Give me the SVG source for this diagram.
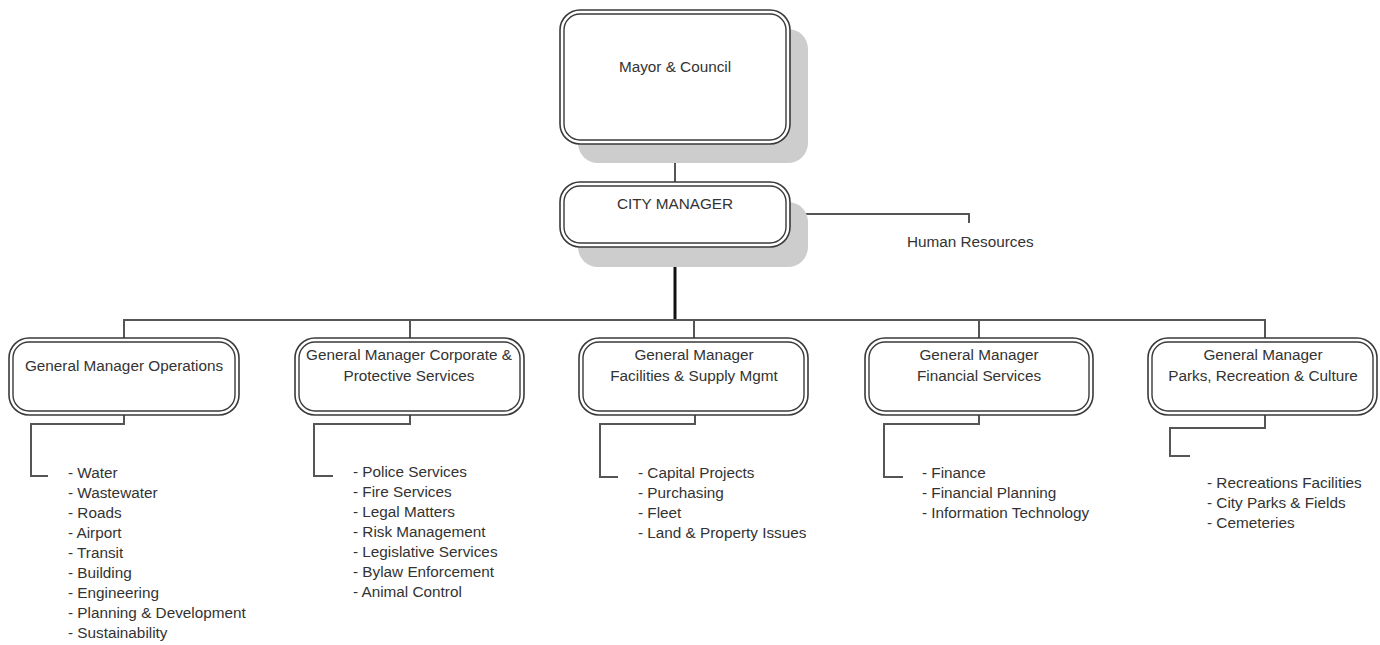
<svg xmlns="http://www.w3.org/2000/svg" width="1380" height="645" viewBox="0 0 1380 645">
<style>
.bg{fill:#ffffff}
.shadow{fill:#cdcdcd}
.outer{fill:#ffffff;stroke:#3a3a3a;stroke-width:1.6}
.inner{fill:none;stroke:#3a3a3a;stroke-width:1.4}
.lbl{font-family:"Liberation Sans",Arial,sans-serif;font-size:15.3px;fill:#333333;text-anchor:middle}
.item{font-family:"Liberation Sans",Arial,sans-serif;font-size:15.3px;fill:#333333}
.conn{fill:none;stroke:#555555;stroke-width:2}
.bold{fill:none;stroke:#111111;stroke-width:3}
</style>
<rect class="bg" x="0" y="0" width="1380" height="645"/>
<g id="connectors">
<path class="conn" d="M675 144 V182"/>
<path class="conn" d="M790 214 H969 V223"/>
<path class="bold" d="M675 247 V320"/>
<path class="conn" d="M124 338 V320 H1265 V338"/>
<path class="conn" d="M410 320 V338"/>
<path class="conn" d="M694 320 V338"/>
<path class="conn" d="M979 320 V338"/>
<path class="conn" d="M124 415 V424 H31 V476 H48"/>
<path class="conn" d="M410 415 V424 H314 V476 H333"/>
<path class="conn" d="M695 415 V424 H600 V477 H618"/>
<path class="conn" d="M979 415 V424 H884 V477 H903"/>
<path class="conn" d="M1265 415 V428 H1170 V456 H1190"/>
</g>
<g id="mayor">
<rect class="shadow" x="578" y="29" width="230" height="134" rx="20"/>
<rect class="outer" x="560" y="10" width="230" height="134" rx="20"/>
<rect class="inner" x="564" y="14" width="222" height="126" rx="16"/>
<text class="lbl" x="675" y="72">Mayor &amp; Council</text>
</g>
<g id="city-manager">
<rect class="shadow" x="578" y="202" width="230" height="65" rx="20"/>
<rect class="outer" x="560" y="182" width="230" height="65" rx="20"/>
<rect class="inner" x="564" y="186" width="222" height="57" rx="16"/>
<text class="lbl" x="675" y="209">CITY MANAGER</text>
</g>
<g id="human-resources">
<text class="item" x="907" y="247">Human Resources</text>
</g>
<g id="gm-operations">
<rect class="outer" x="9" y="338" width="230" height="77" rx="20"/>
<rect class="inner" x="13" y="342" width="222" height="69" rx="16"/>
<text class="lbl" x="124" y="371">General Manager Operations</text>
</g>
<g id="gm-corporate">
<rect class="outer" x="295" y="338" width="229" height="77" rx="20"/>
<rect class="inner" x="299" y="342" width="221" height="69" rx="16"/>
<text class="lbl" x="409" y="360">General Manager Corporate &amp;</text>
<text class="lbl" x="409" y="381">Protective Services</text>
</g>
<g id="gm-facilities">
<rect class="outer" x="579" y="338" width="229" height="77" rx="20"/>
<rect class="inner" x="583" y="342" width="221" height="69" rx="16"/>
<text class="lbl" x="694" y="360">General Manager</text>
<text class="lbl" x="694" y="381">Facilities &amp; Supply Mgmt</text>
</g>
<g id="gm-financial">
<rect class="outer" x="865" y="338" width="228" height="77" rx="20"/>
<rect class="inner" x="869" y="342" width="220" height="69" rx="16"/>
<text class="lbl" x="979" y="360">General Manager</text>
<text class="lbl" x="979" y="381">Financial Services</text>
</g>
<g id="gm-parks">
<rect class="outer" x="1148" y="338" width="229" height="77" rx="20"/>
<rect class="inner" x="1152" y="342" width="221" height="69" rx="16"/>
<text class="lbl" x="1263" y="360">General Manager</text>
<text class="lbl" x="1263" y="381">Parks, Recreation &amp; Culture</text>
</g>
<g id="list-operations">
<text class="item" x="68" y="478">- Water</text>
<text class="item" x="68" y="498">- Wastewater</text>
<text class="item" x="68" y="518">- Roads</text>
<text class="item" x="68" y="538">- Airport</text>
<text class="item" x="68" y="558">- Transit</text>
<text class="item" x="68" y="578">- Building</text>
<text class="item" x="68" y="598">- Engineering</text>
<text class="item" x="68" y="618">- Planning &amp; Development</text>
<text class="item" x="68" y="638">- Sustainability</text>
</g>
<g id="list-corporate">
<text class="item" x="353" y="477">- Police Services</text>
<text class="item" x="353" y="497">- Fire Services</text>
<text class="item" x="353" y="517">- Legal Matters</text>
<text class="item" x="353" y="537">- Risk Management</text>
<text class="item" x="353" y="557">- Legislative Services</text>
<text class="item" x="353" y="577">- Bylaw Enforcement</text>
<text class="item" x="353" y="597">- Animal Control</text>
</g>
<g id="list-facilities">
<text class="item" x="638" y="478">- Capital Projects</text>
<text class="item" x="638" y="498">- Purchasing</text>
<text class="item" x="638" y="518">- Fleet</text>
<text class="item" x="638" y="538">- Land &amp; Property Issues</text>
</g>
<g id="list-financial">
<text class="item" x="922" y="478">- Finance</text>
<text class="item" x="922" y="498">- Financial Planning</text>
<text class="item" x="922" y="518">- Information Technology</text>
</g>
<g id="list-parks">
<text class="item" x="1207" y="488">- Recreations Facilities</text>
<text class="item" x="1207" y="508">- City Parks &amp; Fields</text>
<text class="item" x="1207" y="528">- Cemeteries</text>
</g>
</svg>
